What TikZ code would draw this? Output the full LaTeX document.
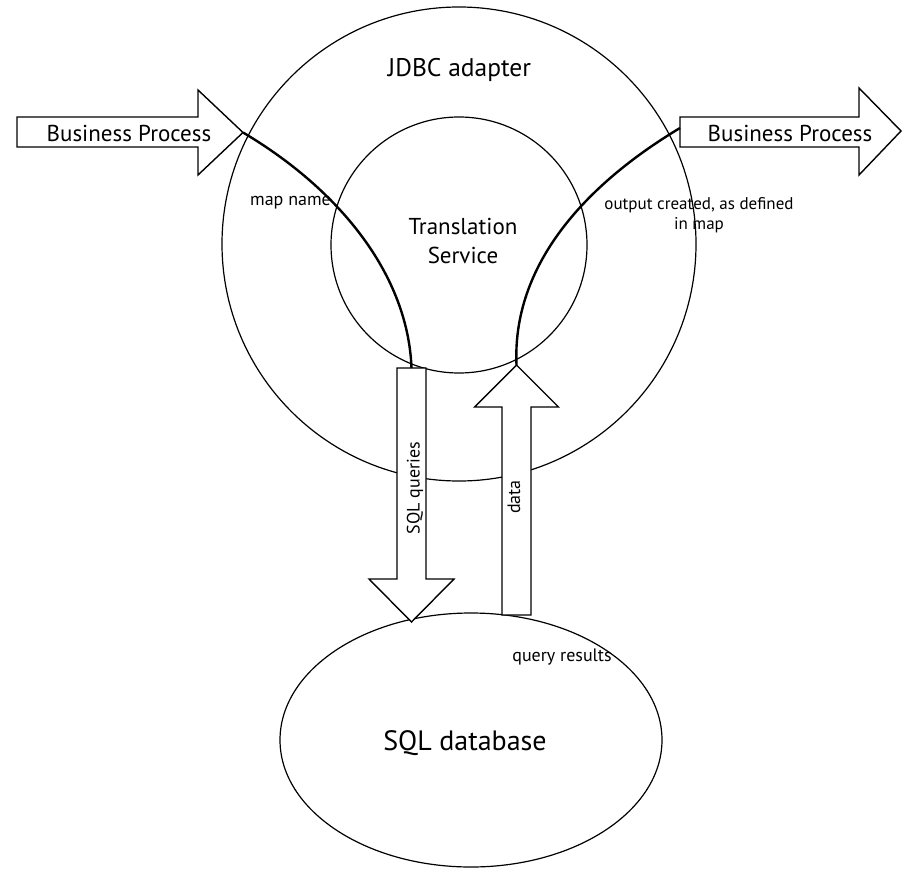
\documentclass[tikz,border=0pt]{standalone}
\usepackage{fontspec}
\setmainfont{PT Sans}
\usetikzlibrary{shapes.geometric}
\begin{document}
\begin{tikzpicture}[x=1pt,y=-1pt,
  ring/.style={draw, circle, line width=1.2pt, inner sep=0pt},
  fatarrow/.style={draw, fill=white, line width=1.4pt, line join=miter},
  flow/.style={line width=2.4pt},
  bigtxt/.style={font=\fontsize{23}{29}\selectfont, inner sep=0pt},
  smalltxt/.style={font=\fontsize{18}{21}\selectfont, inner sep=0pt}]
\useasboundingbox (0,0) rectangle (904,869);
\fill[white] (0,0) rectangle (904,869);
% circles and ellipse
\node[ring, minimum size=474pt] (jdbc) at (459,244) {};
\node[ring, minimum size=256pt] (ts) at (459,245) {};
\node[draw, ellipse, line width=1.2pt, minimum width=382pt, minimum height=254pt, inner sep=0pt] (db) at (471,740) {};
% block arrows
\draw[fatarrow] (17,117) -- (198,117) -- (198,90) -- (243,132.5) -- (198,175) -- (198,147) -- (17,147) -- cycle;
\coordinate (bpin) at (243,132.5);
\draw[fatarrow] (680,117) -- (859,117) -- (859,88) -- (901,131) -- (859,175) -- (859,147) -- (680,147) -- cycle;
\coordinate (bpout) at (680,128);
\draw[fatarrow] (397,368) -- (426,368) -- (426,579) -- (454,579) -- (411.5,622) -- (369,579) -- (397,579) -- cycle;
\coordinate (sqltop) at (411.5,368);
\draw[fatarrow] (502,615) -- (531,615) -- (531,407) -- (558.5,407) -- (516.5,365) -- (474.5,407) -- (502,407) -- cycle;
\coordinate (datatip) at (516.5,365);
% flow curves
\draw[flow] (bpin) .. controls (340,190) and (408,275) .. (sqltop);
\draw[flow] (bpout) .. controls (585,185) and (512,265) .. (datatip);
% labels
\node[font=\fontsize{25.5}{30}\selectfont, inner sep=0pt, anchor=base] (jdbct) at (459.5,77) {JDBC adapter};
\node[bigtxt, align=center, anchor=base] (tst) at (463,263) {Translation\\Service};
\node[bigtxt, anchor=base] (bpl) at (129,141.7) {Business Process};
\node[bigtxt, anchor=base] (bpr) at (790,141.7) {Business Process};
\node[smalltxt, anchor=base] (mapn) at (290.5,205.5) {map name};
\node[font=\fontsize{17}{20.5}\selectfont, inner sep=0pt, align=center, anchor=base] (outc) at (699,229.5) {output created, as defined\\in map};
\node[smalltxt, anchor=base] (qres) at (562,661.5) {query results};
\node[font=\fontsize{28}{32}\selectfont, inner sep=0pt, anchor=base] (dbt) at (465,750) {SQL database};
\node[smalltxt, rotate=90] (sqlq) at (415,488) {SQL queries};
\node[smalltxt, rotate=90] (datat) at (514,497) {data};
\end{tikzpicture}
\end{document}
